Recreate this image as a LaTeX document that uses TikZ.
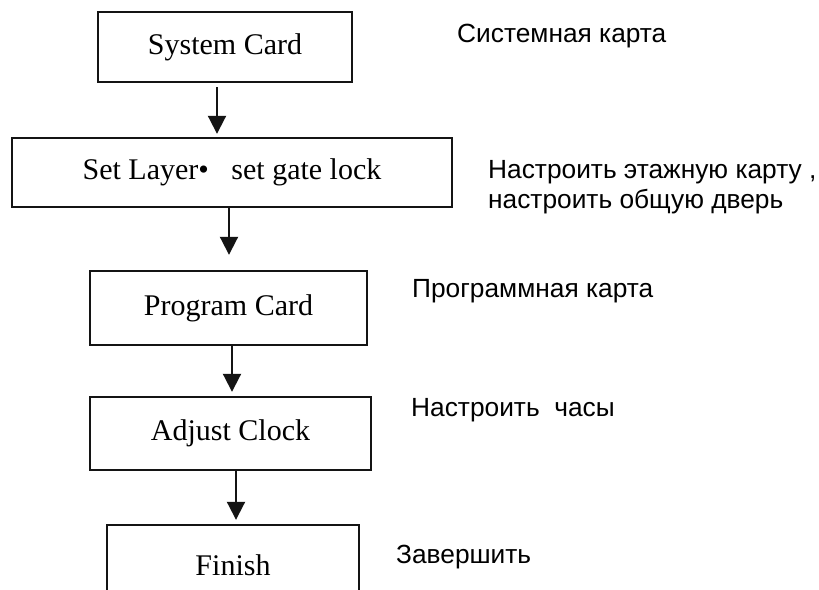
\documentclass[tikz,border=0pt]{standalone}
\usepackage{fontspec}
\setmainfont{Liberation Serif}
\newfontfamily\notefont{Liberation Sans}
\usetikzlibrary{arrows.meta,positioning}
\definecolor{boxline}{RGB}{20,20,20}

\begin{document}
\begin{tikzpicture}[x=1pt, y=-1pt,
  stepbox/.style={draw=boxline, line width=2.4pt, inner sep=0pt,
    font=\fontsize{30}{34}\selectfont},
  note/.style={anchor=base west, align=left, inner sep=0pt,
    font=\notefont\fontsize{26.3}{30}\selectfont},
  arr/.style={draw=boxline, line width=2pt,
    -{Triangle[length=18pt, width=18pt]}}]
% page frame
\clip (0,0) rectangle (819,589);
\fill[white] (0,0) rectangle (819,589);
% flow boxes
\node[stepbox, minimum width=254pt, minimum height=70pt] (sys) at (225,47) {System Card};
\node[stepbox, minimum width=440pt, minimum height=69pt] (layer) at (232,172.5)
  {Set Layer•\ \ \ set gate lock\hspace{34pt}};
\node[stepbox, minimum width=277pt, minimum height=74pt] (prog) at (228.5,308) {Program Card};
\node[stepbox, minimum width=281pt, minimum height=73pt] (clock) at (230.5,433.5) {Adjust Clock};
\node[stepbox, minimum width=252pt, minimum height=80pt] (fin) at (233,565) {Finish};
% arrows between boxes
\draw[arr, shorten <=4pt, shorten >=3pt] ([xshift=-8pt]sys.south) -- ([xshift=-8pt]sys.south |- layer.north);
\draw[arr, shorten >=15pt] ([xshift=-3pt]layer.south) -- ([xshift=-3pt]layer.south |- prog.north);
\draw[arr, shorten >=4pt] ([xshift=3.5pt]prog.south) -- ([xshift=3.5pt]prog.south |- clock.north);
\draw[arr, shorten >=4pt] ([xshift=5.5pt]clock.south) -- ([xshift=5.5pt]clock.south |- fin.north);
% russian notes
\node[note] (nsys) at (457,42) {Системная карта};
\node[note] (nlayer) at (488,208) {Настроить этажную карту ,\\настроить общую дверь};
\node[note] (nprog) at (412,297) {Программная карта};
\node[note] (nclock) at (411,416) {Настроить\ \ часы};
\node[note] (nfin) at (396,563) {Завершить};
\end{tikzpicture}
\end{document}
